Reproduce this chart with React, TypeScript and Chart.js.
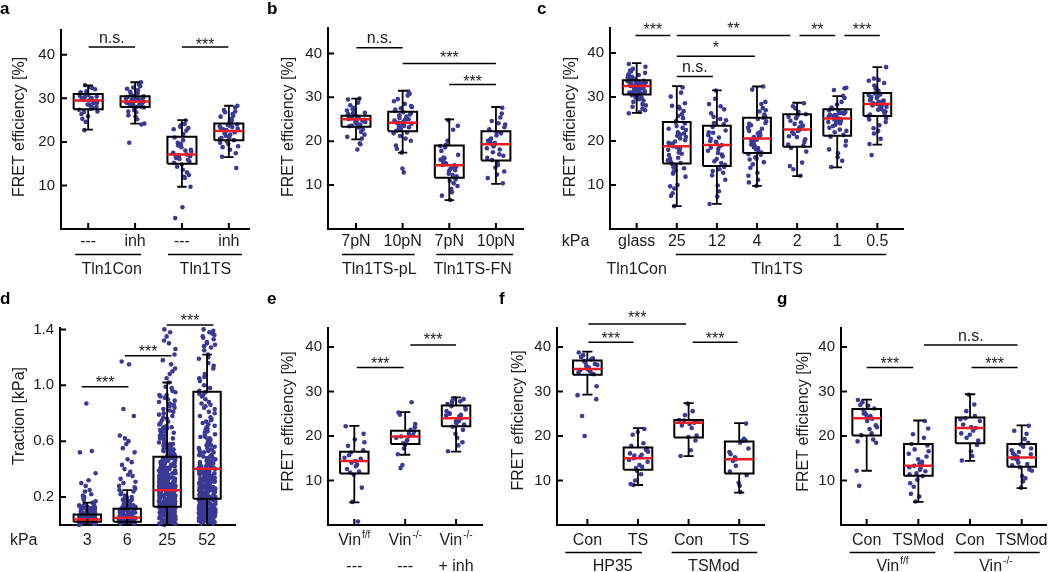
import React, { useEffect, useRef } from "react";
import { Chart, registerables } from "chart.js";

Chart.register(...registerables);

// ---------------- shared horizontal jitter pattern (fraction of jitter half-width) ----------------
const JITTER = [0.12, -0.85, 0.47, -0.33, 0.91, -0.06, -0.62, 0.28, 0.74, -0.97, 0.05, -0.41, 0.63, -0.19, 0.88, -0.72, 0.36, -0.52, 0.15, 0.99, -0.27, -0.88, 0.54, -0.11, 0.79, -0.45, 0.22, -0.66, 0.41, -0.02, 0.95, -0.79, 0.31, -0.36, 0.68, -0.93, 0.09];

// box statistics rows: [lower whisker, Q1, median, Q3, upper whisker]

// ---------------- panel a ----------------
const A_CATEGORIES = ["---", "inh", "---", "inh"];
const A_GROUPS = ["Tln1Con", "Tln1TS"];
const A_Y_TICKS = [10, 20, 30, 40];
const A_CON_CTRL = [29.5, 31.2, 27.8, 33.0, 30.4, 28.6, 25.3, 29.9, 32.1, 27.4, 30.8, 22.7, 29.2, 31.6, 28.1, 26.4, 30.1, 29.7, 32.6, 27.0, 24.6, 30.6, 28.9, 31.0, 29.3, 26.9, 28.4, 30.0, 32.4, 25.9, 29.0, 31.4, 27.6, 30.3];
const A_CON_INH = [29.3, 33.7, 28.5, 30.2, 26.1, 29.8, 31.5, 28.0, 24.2, 30.6, 29.0, 32.8, 27.3, 29.6, 30.9, 25.2, 28.8, 33.2, 29.4, 27.9, 30.3, 31.9, 28.3, 24.0, 29.1, 30.0, 26.8, 32.2, 28.6, 29.7, 30.5, 27.5, 19.8, 31.2, 28.9, 29.9, 25.8, 30.8, 28.1, 32.5, 29.2, 27.0, 30.1];
const A_TS_CTRL = [17.1, 23.8, 15.5, 19.8, 12.0, 16.6, 24.9, 14.8, 18.2, 21.0, 11.7, 16.9, 23.2, 17.5, 13.6, 20.4, 15.2, 22.6, 17.0, 9.7, 18.8, 16.3, 24.1, 12.4, 17.4, 5.0, 19.2, 15.9, 23.5, 16.7, 2.5, 18.0, 14.3, 21.8, 17.8, 16.1, 22.9, 13.0, 19.5];
const A_TS_INH = [22.5, 27.9, 20.7, 24.6, 18.2, 23.1, 26.0, 21.4, 28.3, 19.5, 22.9, 25.3, 17.4, 23.6, 21.0, 26.8, 22.2, 20.1, 24.0, 16.6, 23.4, 27.3, 21.7, 19.0, 22.7, 25.8, 20.4, 23.9, 14.0, 22.0, 24.4, 18.8, 26.4, 21.2, 23.0, 20.9, 25.0, 22.4, 27.0, 19.8, 23.7];
const A_BOX_STATS = [[22.8, 27.5, 29.5, 31.0, 33.0], [24.2, 28.0, 29.3, 30.5, 33.7], [9.7, 15.0, 17.1, 21.2, 25.0], [16.5, 20.4, 22.5, 24.2, 28.3]];

// ---------------- panel b ----------------
const B_CATEGORIES = ["7pN", "10pN", "7pN", "10pN"];
const B_GROUPS = ["Tln1TS-pL", "Tln1TS-FN"];
const B_Y_TICKS = [10, 20, 30, 40];
const B_PL_7 = [25.0, 29.5, 23.8, 26.3, 21.5, 24.6, 28.2, 25.4, 22.7, 27.0, 24.1, 25.7, 20.6, 26.8, 24.9, 23.4, 29.7, 25.2, 18.1, 24.4, 27.6, 25.9, 22.1, 26.0, 24.7, 23.6, 28.8, 25.5, 19.5, 24.2, 26.5, 25.1, 23.1, 27.3, 24.8, 21.0, 25.6, 24.0, 26.2, 19.3];
const B_PL_10 = [24.2, 31.3, 22.8, 26.4, 19.0, 25.1, 29.6, 23.5, 27.8, 21.2, 24.7, 30.4, 17.4, 26.1, 23.9, 28.5, 22.4, 25.6, 13.8, 24.0, 27.2, 20.6, 25.9, 23.2, 29.1, 24.5, 12.9, 26.9, 22.0, 25.3, 28.0, 23.7, 18.3, 24.9, 30.8, 21.8, 26.6, 23.0, 25.0, 27.5, 20.1, 24.3];
const B_FN_7 = [14.5, 24.8, 12.0, 18.6, 9.1, 15.3, 22.6, 13.2, 16.9, 7.6, 14.0, 19.2, 11.3, 15.8, 6.6, 13.7, 17.8, 10.4, 14.8, 23.5, 12.6, 16.3, 8.4, 14.2, 18.9, 11.0, 15.0, 13.4, 20.1, 9.8, 14.6, 12.3, 16.1];
const B_FN_10 = [19.3, 27.6, 16.2, 22.0, 12.4, 20.1, 25.4, 17.5, 23.2, 14.0, 19.8, 24.1, 10.4, 18.4, 21.3, 15.7, 26.3, 19.0, 13.1, 22.7, 17.0, 20.6, 15.2, 23.8, 18.8, 11.6, 21.8, 19.6, 16.7, 24.6, 14.6, 20.3, 18.1];
const B_BOX_STATS = [[20.4, 23.3, 25.0, 25.8, 29.7], [17.4, 22.3, 24.2, 26.7, 31.5], [6.6, 11.7, 14.5, 19.0, 25.0], [10.3, 15.6, 19.3, 22.3, 27.8]];

// ---------------- panel c ----------------
const C_CATEGORIES = ["glass", "25", "12", "4", "2", "1", "0.5"];
const C_GROUPS = ["Tln1Con", "Tln1TS"];
const C_Y_TICKS = [10, 20, 30, 40];
const C_GLASS = [32.5, 37.5, 30.8, 34.2, 27.0, 33.1, 35.8, 31.6, 29.2, 33.6, 32.0, 36.4, 28.4, 33.9, 31.2, 32.8, 26.6, 34.6, 30.3, 33.3, 31.9, 35.2, 29.8, 32.2, 33.7, 27.8, 31.5, 34.0, 32.7, 30.0, 36.9, 31.0, 33.4, 28.9, 32.4, 34.9, 31.4, 33.0, 26.3, 32.9, 30.6, 35.5, 31.8, 33.2, 29.5, 32.1, 34.4, 30.9, 32.6, 27.4, 33.8, 31.3, 36.0, 32.3, 30.4, 33.5, 28.1, 31.7, 34.7, 32.0, 29.9, 33.1, 31.1, 35.0, 32.5, 30.2];
const C_KPA_25 = [18.8, 32.2, 14.5, 24.0, 9.7, 20.6, 28.0, 16.2, 22.5, 5.2, 19.6, 26.1, 13.4, 21.7, 8.1, 17.4, 30.1, 15.0, 23.4, 11.9, 19.2, 27.4, 14.0, 25.2, 18.0, 10.0, 22.0, 16.8, 31.0, 13.0, 20.2, 24.6, 7.5, 17.9, 26.8, 15.6, 21.2, 12.6, 23.0, 19.9, 28.6, 16.0, 18.4, 14.8, 25.7, 20.9, 9.2, 22.8, 17.1, 24.3, 13.8, 19.4, 27.8, 15.3, 21.5, 18.6];
const C_KPA_12 = [19.1, 31.5, 14.1, 23.2, 8.6, 20.5, 27.9, 15.9, 22.4, 5.7, 18.8, 25.5, 12.8, 21.3, 9.9, 17.3, 28.4, 15.0, 24.1, 11.2, 19.5, 26.3, 13.6, 23.8, 17.8, 7.4, 21.9, 16.5, 29.6, 14.6, 20.0, 25.0, 12.2, 18.2, 24.7, 15.4, 22.0, 16.9, 19.8, 27.2, 13.2, 20.8, 18.5];
const C_KPA_4 = [20.6, 32.4, 17.0, 25.0, 11.2, 22.3, 28.4, 18.6, 24.1, 9.8, 20.0, 26.7, 15.2, 23.0, 12.8, 19.4, 27.5, 16.3, 25.6, 13.9, 21.4, 31.7, 17.8, 24.5, 19.0, 10.6, 22.8, 18.1, 26.0, 14.7, 21.0, 23.6, 16.9, 20.3, 27.0, 15.8, 22.0, 19.7, 25.3, 12.1, 21.7, 18.4, 23.9, 17.4, 20.9, 28.9, 16.0, 19.2];
const C_KPA_2 = [22.6, 28.6, 19.2, 25.8, 13.6, 23.5, 27.4, 20.4, 24.6, 12.1, 22.0, 26.6, 17.6, 23.9, 21.1, 15.1, 25.2, 19.8, 27.9, 22.9, 18.4, 24.2, 20.9, 26.1, 14.3, 23.2, 21.6, 19.0, 25.5, 22.3];
const C_KPA_1 = [25.1, 32.1, 22.0, 27.0, 15.5, 25.8, 29.8, 23.4, 26.4, 14.1, 24.6, 28.3, 20.0, 26.0, 24.0, 31.6, 21.4, 25.5, 17.2, 26.9, 23.0, 28.9, 24.9, 19.0, 25.3, 27.6, 22.6, 26.2, 24.3, 16.3, 25.7, 30.3, 23.7, 26.6, 21.0, 25.0, 27.3, 24.7, 22.3, 25.9, 18.1, 26.4, 24.4, 32.0];
const C_KPA_05 = [28.4, 36.8, 26.0, 30.6, 21.7, 29.2, 33.7, 27.1, 31.4, 19.3, 28.0, 32.6, 24.3, 29.8, 16.8, 27.5, 33.2, 25.6, 30.2, 22.9, 28.8, 31.9, 26.7, 29.5, 20.5, 28.1, 33.9, 27.8, 30.8, 24.9, 29.0, 32.0, 26.3, 28.6, 23.6, 30.0, 27.3, 31.1, 25.2, 29.3, 28.2, 34.2, 26.9, 30.4, 22.3, 28.9];
const C_BOX_STATS = [[26.4, 30.6, 32.5, 33.8, 37.7], [5.2, 14.9, 18.8, 24.3, 32.5], [5.7, 14.3, 19.1, 23.5, 31.5], [9.8, 17.3, 20.6, 25.3, 32.4], [12.0, 18.7, 22.6, 26.1, 28.7], [14.0, 21.2, 25.1, 27.2, 30.2], [19.2, 25.7, 28.4, 30.9, 36.8]];

// ---------------- panel d (traction, kPa) ----------------
const D_CATEGORIES = ["3", "6", "25", "52"];
const D_Y_TICKS = [0.2, 0.6, 1.0, 1.4];
const D_KPA_3 = [0.02, 0.05, 0.11, 0.01, 0.07, 0.03, 0.13, 0.04, 0.09, 0.0, 0.06, 0.14, 0.02, 0.08, 0.03, 0.12, 0.05, 0.01, 0.1, 0.04, 0.15, 0.06, 0.02, 0.09, 0.03, 0.07, 0.11, 0.01, 0.05, 0.13, 0.04, 0.08, 0.02, 0.06, 0.16, 0.03, 0.1, 0.05, 0.01, 0.07, 0.12, 0.04, 0.02, 0.09, 0.06, 0.03, 0.14, 0.05, 0.08, 0.01, 0.04, 0.11, 0.02, 0.07, 0.03, 0.06, 0.17, 0.05, 0.02, 0.09, 0.04, 0.13, 0.01, 0.06, 0.03, 0.08, 0.1, 0.02, 0.05, 0.04, 0.2, 0.07, 0.03, 0.12, 0.01, 0.06, 0.22, 0.04, 0.09, 0.02, 0.05, 0.25, 0.03, 0.14, 0.07, 0.18, 0.01, 0.28, 0.04, 0.3, 0.06, 0.21, 0.32, 0.37, 0.24, 0.52, 0.53, 0.87, 0.15, 0.19, 0.03, 0.08, 0.12, 0.05, 0.02, 0.1, 0.01, 0.04, 0.07, 0.02, 0.1, 0.05, 0.03, 0.08, 0.06, 0.12, 0.02, 0.04, 0.09, 0.01, 0.06, 0.11, 0.03, 0.05, 0.07, 0.13, 0.02, 0.08, 0.04, 0.1, 0.01, 0.06, 0.03, 0.09, 0.05, 0.14];
const D_KPA_6 = [0.03, 0.08, 0.15, 0.01, 0.1, 0.05, 0.18, 0.06, 0.12, 0.02, 0.09, 0.2, 0.04, 0.11, 0.03, 0.16, 0.07, 0.01, 0.13, 0.05, 0.22, 0.08, 0.02, 0.14, 0.04, 0.1, 0.17, 0.03, 0.06, 0.19, 0.05, 0.12, 0.01, 0.09, 0.24, 0.04, 0.07, 0.15, 0.02, 0.11, 0.27, 0.06, 0.03, 0.13, 0.08, 0.05, 0.21, 0.1, 0.01, 0.16, 0.04, 0.3, 0.07, 0.12, 0.02, 0.18, 0.09, 0.33, 0.05, 0.14, 0.03, 0.25, 0.06, 0.36, 0.11, 0.08, 0.4, 0.02, 0.2, 0.43, 0.15, 0.04, 0.28, 0.47, 0.1, 0.35, 0.06, 0.52, 0.23, 0.38, 0.55, 0.6, 0.31, 0.62, 0.64, 0.45, 0.58, 0.78, 0.83, 1.15, 1.17, 0.13, 0.07, 0.26, 0.01, 0.17, 0.04, 0.09, 0.02, 0.11, 0.02, 0.06, 0.09, 0.03, 0.12, 0.05, 0.01, 0.08, 0.14, 0.04, 0.1, 0.07, 0.02, 0.16, 0.05, 0.11, 0.03, 0.09, 0.06, 0.13, 0.01, 0.07, 0.18, 0.04, 0.1, 0.02, 0.15, 0.06, 0.08, 0.12];
const D_KPA_25 = [0.12, 0.35, 0.05, 0.48, 0.22, 0.67, 0.02, 0.29, 0.15, 0.41, 0.08, 0.56, 0.19, 0.33, 0.01, 0.74, 0.26, 0.1, 0.45, 0.17, 0.38, 0.04, 0.52, 0.23, 0.88, 0.13, 0.31, 0.07, 0.6, 0.2, 0.43, 0.03, 0.27, 0.16, 0.95, 0.36, 0.09, 0.5, 0.24, 0.14, 0.7, 0.06, 0.39, 0.18, 0.57, 0.28, 0.11, 0.82, 0.0, 0.34, 0.21, 0.47, 0.13, 0.63, 0.05, 0.3, 0.25, 1.05, 0.4, 0.08, 0.54, 0.17, 0.32, 0.02, 0.78, 0.22, 0.44, 0.12, 0.58, 0.27, 0.06, 0.37, 0.91, 0.19, 0.49, 0.1, 0.66, 0.03, 0.29, 0.15, 0.42, 0.24, 1.12, 0.07, 0.53, 0.35, 0.18, 0.72, 0.01, 0.46, 0.26, 0.14, 0.61, 0.09, 0.38, 0.21, 0.85, 0.04, 0.31, 0.55, 0.16, 0.43, 0.11, 1.22, 0.33, 0.23, 0.68, 0.06, 0.48, 0.28, 0.13, 0.98, 0.39, 0.02, 0.57, 0.2, 0.36, 0.08, 0.76, 0.25, 0.45, 0.15, 1.32, 0.3, 0.05, 0.51, 0.18, 0.64, 0.1, 0.41, 0.27, 0.93, 0.03, 0.34, 0.22, 0.59, 0.12, 0.8, 0.37, 0.07, 0.47, 0.24, 1.38, 0.16, 0.53, 0.01, 0.32, 0.19, 0.7, 0.09, 0.44, 0.29, 1.02, 0.14, 0.56, 0.04, 0.39, 0.21, 0.87, 0.11, 0.62, 0.26, 0.06, 0.49, 0.35, 1.15, 0.17, 0.42, 0.02, 0.75, 0.23, 0.54, 0.13, 0.3, 0.08, 0.96, 0.4, 0.2, 0.65, 0.05, 0.46, 0.28, 1.26, 0.15, 0.36, 0.1, 0.58, 0.25, 0.83, 0.03, 0.43, 0.18, 0.69, 0.12, 0.33, 1.08, 0.07, 0.52, 0.27, 0.9, 0.22, 0.38, 0.01, 0.61, 0.16, 1.35, 0.45, 0.09, 0.31, 0.79, 0.24, 0.55, 0.04, 0.99, 0.19, 0.41, 0.14, 1.18, 0.34, 0.06, 0.67, 0.29, 0.48, 0.11, 0.86, 0.21, 1.3, 0.37, 0.02, 0.57, 0.17, 0.73, 0.26, 0.44, 0.08, 0.93, 0.32, 0.13, 0.62, 0.23, 1.4, 0.5, 0.05, 0.39, 0.2, 0.81, 0.28, 0.15, 0.53, 1.1, 0.35, 0.1, 0.66, 0.03, 0.47, 0.25, 0.04, 0.19, 0.33, 0.08, 0.27, 0.51, 0.14, 0.02, 0.38, 0.22, 0.11, 0.46, 0.06, 0.29, 0.17, 0.58, 0.01, 0.24, 0.36, 0.09, 0.43, 0.13, 0.31, 0.05, 0.21, 0.55, 0.16, 0.39, 0.03, 0.26, 0.12, 0.48, 0.07, 0.34, 0.2, 0.62, 0.1, 0.28, 0.44, 0.15, 0.02, 0.37, 0.23, 0.53, 0.08, 0.3, 0.18, 0.41, 0.04, 0.25, 0.14, 0.59, 0.11, 0.35, 0.06, 0.47, 0.22, 0.01, 0.32, 0.19, 0.71, 0.09, 0.4, 0.27, 0.13, 0.5, 0.03, 0.24, 0.16, 0.84, 0.07, 0.34, 0.45, 0.12, 0.21, 0.64, 0.05, 0.29, 0.38, 0.17, 0.77, 0.1, 0.26, 0.52, 0.02, 0.33, 0.92, 0.15, 0.42, 0.08, 0.23, 0.56, 0.18, 0.68, 0.04, 0.31, 0.89, 0.12, 0.37, 0.27];
const D_KPA_52 = [0.05, 0.32, 0.14, 0.61, 0.02, 0.24, 0.45, 0.09, 0.83, 0.18, 0.37, 0.01, 0.27, 0.12, 0.55, 0.21, 0.07, 0.4, 1.36, 0.15, 0.3, 0.04, 0.72, 0.19, 0.35, 0.1, 0.5, 0.23, 0.03, 0.93, 0.28, 0.13, 0.42, 0.06, 0.65, 0.17, 0.33, 1.28, 0.08, 0.25, 0.47, 0.11, 0.78, 0.2, 0.38, 0.02, 0.57, 0.14, 0.29, 1.12, 0.05, 0.44, 0.22, 0.09, 0.68, 0.31, 0.16, 0.98, 0.01, 0.36, 0.26, 0.12, 0.53, 0.19, 0.41, 1.33, 0.07, 0.3, 0.87, 0.15, 0.48, 0.24, 0.04, 0.62, 0.34, 0.1, 1.05, 0.21, 0.39, 0.13, 0.75, 0.27, 0.06, 0.46, 0.18, 1.38, 0.32, 0.09, 0.58, 0.23, 0.02, 0.9, 0.37, 0.14, 0.43, 0.28, 1.2, 0.11, 0.66, 0.2, 0.35, 0.05, 0.52, 0.17, 0.81, 0.26, 0.08, 1.3, 0.4, 0.12, 0.6, 0.22, 0.03, 0.96, 0.31, 0.16, 0.45, 0.25, 1.25, 0.07, 0.7, 0.19, 0.38, 0.1, 0.55, 0.29, 1.4, 0.13, 0.85, 0.33, 0.04, 0.49, 0.21, 1.16, 0.15, 0.64, 0.27, 0.09, 0.42, 0.18, 1.34, 0.36, 0.01, 0.77, 0.24, 0.11, 0.51, 0.3, 1.0, 0.06, 0.39, 0.16, 0.59, 0.22, 1.27, 0.14, 0.34, 0.08, 0.92, 0.28, 0.44, 0.03, 0.67, 0.2, 1.37, 0.12, 0.47, 0.26, 0.05, 0.73, 0.35, 0.17, 1.08, 0.1, 0.54, 0.23, 0.41, 0.02, 0.88, 0.19, 0.31, 1.31, 0.07, 0.63, 0.25, 0.13, 0.48, 0.37, 0.04, 1.22, 0.21, 0.57, 0.15, 0.8, 0.29, 0.09, 0.43, 1.39, 0.18, 0.69, 0.32, 0.06, 0.95, 0.24, 0.4, 0.11, 1.35, 0.53, 0.2, 0.03, 0.36, 0.76, 0.14, 1.14, 0.27, 0.46, 0.08, 0.61, 0.22, 1.29, 0.33, 0.12, 0.84, 0.01, 0.5, 0.17, 0.38, 1.03, 0.26, 0.1, 0.71, 0.3, 0.03, 0.15, 0.27, 0.08, 0.36, 0.19, 0.01, 0.24, 0.12, 0.42, 0.06, 0.31, 0.17, 0.09, 0.28, 0.22, 0.04, 0.38, 0.14, 0.49, 0.1, 0.26, 0.02, 0.33, 0.18, 0.07, 0.44, 0.21, 0.13, 0.3, 0.05, 0.37, 0.16, 0.25, 0.11, 0.56, 0.2, 0.03, 0.32, 0.08, 0.41, 0.15, 0.27, 0.06, 0.63, 0.23, 0.12, 0.35, 0.01, 0.19, 0.47, 0.09, 0.29, 0.14, 0.74, 0.22, 0.05, 0.39, 0.17, 0.86, 0.26, 0.1, 0.33, 0.02, 0.52, 0.18, 0.94, 0.07, 0.24, 0.43, 0.13, 1.06, 0.31, 0.04, 0.2, 0.58, 0.11, 1.19, 0.28, 0.16];
const D_BOX_STATS = [[0, 0.024, 0.04, 0.076, 0.16], [0, 0.024, 0.052, 0.117, 0.25], [0, 0.131, 0.248, 0.489, 1.02], [0, 0.188, 0.403, 0.954, 1.22]];

// ---------------- panel e ----------------
const E_CATEGORIES = ["Vin|f/f", "Vin|-/-", "Vin|-/-"];
const E_TREATMENT = ["---", "---", "+ inh"];
const E_Y_TICKS = [10, 20, 30, 40];
const E_VIN_FF = [14.4, 22.2, 12.0, 16.3, 20.5, 11.3, 17.8, 13.6, 8.4, 15.1, 19.2, 11.8, 14.9, 5.2, 16.8, 12.6, 0.8, 15.7, 13.2, 18.6, 14.0];
const E_VIN_KO = [19.9, 27.6, 18.4, 21.0, 15.9, 20.6, 24.8, 18.9, 22.7, 13.5, 19.6, 21.4, 17.2, 20.2, 12.8, 19.1, 25.3, 20.0, 18.0, 22.0];
const E_VIN_KO_INH = [24.0, 28.5, 22.6, 26.7, 17.9, 25.1, 27.8, 23.2, 26.0, 16.6, 24.4, 28.0, 21.4, 25.6, 23.7, 19.6, 27.2, 24.8, 22.1, 26.4, 20.5, 25.0, 23.4, 28.3, 24.6, 22.9, 27.5, 18.6];
const E_BOX_STATS = [[5.1, 11.6, 14.4, 16.5, 22.3], [15.8, 18.2, 19.9, 21.2, 25.4], [16.5, 22.2, 24.0, 26.9, 28.7]];

// ---------------- panel f ----------------
const F_CATEGORIES = ["Con", "TS", "Con", "TS"];
const F_GROUPS = ["HP35", "TSMod"];
const F_Y_TICKS = [10, 20, 30, 40];
const F_HP35_CON = [35.1, 38.8, 34.0, 36.9, 31.2, 35.6, 37.8, 34.5, 36.2, 29.2, 35.0, 38.2, 33.9, 36.6, 28.3, 34.8, 37.2, 24.5, 35.4, 36.0, 20.0, 34.3, 37.5, 35.8];
const F_HP35_TS = [15.0, 21.6, 12.8, 17.2, 9.2, 15.8, 20.3, 13.5, 16.5, 10.0, 14.6, 18.4, 12.2, 16.9, 9.0, 15.3, 17.8, 13.1, 20.9, 14.2, 16.1, 11.4, 15.6];
const F_TSMOD_CON = [23.0, 27.3, 20.1, 23.5, 16.8, 22.4, 25.6, 19.8, 23.2, 15.5, 21.8, 24.7, 19.0, 23.6, 22.7];
const F_TSMOD_TS = [14.8, 22.8, 12.0, 18.5, 7.4, 15.9, 19.4, 13.3, 17.2, 9.5, 14.4, 18.9, 11.2, 16.4, 8.8, 15.2, 19.0];
const F_BOX_STATS = [[29.3, 33.8, 35.1, 37.0, 39.0], [9.0, 12.4, 15.0, 17.4, 21.8], [15.5, 19.7, 23.0, 23.6, 27.4], [7.3, 11.6, 14.8, 18.8, 22.9]];

// ---------------- panel g ----------------
const G_CATEGORIES = ["Con", "TSMod", "Con", "TSMod"];
const G_GROUPS = ["Vin|f/f", "Vin|-/-"];
const G_Y_TICKS = [10, 20, 30, 40];
const G_FF_CON = [24.0, 28.1, 20.6, 25.9, 18.5, 24.8, 27.0, 21.6, 26.2, 12.2, 23.4, 27.6, 19.2, 25.3, 22.4, 8.8, 24.5, 20.2, 26.8, 22.0, 25.1, 18.8, 23.9];
const G_FF_TSMOD = [13.3, 23.4, 11.6, 17.9, 7.0, 14.2, 20.4, 12.4, 16.6, 5.3, 13.0, 19.6, 10.2, 15.4, 8.6, 12.8, 18.2, 11.0, 14.8, 21.7, 9.4, 13.6, 17.0, 12.1, 16.0, 6.4, 13.9, 11.4];
const G_KO_CON = [21.8, 29.3, 19.0, 24.0, 15.5, 22.6, 27.1, 20.3, 23.4, 14.5, 21.2, 25.6, 18.0, 23.8, 16.6, 22.0, 20.6, 24.5, 19.6];
const G_KO_TSMOD = [15.2, 22.3, 13.4, 17.9, 9.8, 16.1, 20.5, 14.0, 17.2, 8.4, 15.6, 19.3, 12.5, 16.8, 11.0, 14.6, 18.5, 13.0, 15.9, 21.2, 10.5, 14.9, 17.6, 12.2, 16.4, 15.0, 13.7, 18.1];
const G_BOX_STATS = [[12.2, 20.1, 24.0, 26.1, 28.2], [5.2, 11.1, 13.3, 18.2, 23.5], [14.4, 18.4, 21.8, 24.2, 29.4], [8.3, 13.1, 15.2, 18.2, 22.4]];

// ---------------- styling / layout ----------------
const FONT = "'Liberation Sans', Arial, Helvetica, sans-serif";
const INK = "#1c1c1c";
const DOT = "rgb(58,58,150)";
const MEDIAN = "rgb(236,28,36)";

type Group = { c1: number; c2: number; o1: number; o2: number; label: string; line: boolean };
type SigBar = { x1: number; x2: number; y: number; text: string; dy?: number };
type PanelCfg = {
  letter: string;
  letterPos: [number, number];
  canvas: [number, number, number, number];
  area: [number, number, number, number];
  yMax: number;
  yTicks: number[];
  yDecimals: number;
  yTitle: string;
  titlePos: [number, number];
  xMin: number;
  xMax: number;
  cats: string[];
  catDy: number;
  subRow?: string[];
  subDy?: number;
  kpaX?: number;
  groups: Group[];
  groupLineDy: number;
  groupDy: number;
  sigs: SigBar[];
  series: number[][];
  boxes: number[][];
  boxHalf: number;
  capHalf: number;
  jitter: number;
  radius: number;
};

const PANELS: PanelCfg[] = [
  {
    letter: "a", letterPos: [0, 14], canvas: [0, 0, 262, 286], area: [61, 30, 249, 229],
    yMax: 45.7, yTicks: A_Y_TICKS, yDecimals: 0, yTitle: "FRET efficiency [%]", titlePos: [20, 127],
    xMin: 0.42, xMax: 4.43, cats: A_CATEGORIES, catDy: 17,
    groups: [
      { c1: 1, c2: 2, o1: -13, o2: 6, label: A_GROUPS[0], line: true },
      { c1: 3, c2: 4, o1: -14, o2: 13, label: A_GROUPS[1], line: true },
    ],
    groupLineDy: 25.5, groupDy: 44.5,
    sigs: [
      { x1: 1.01, x2: 2.0, y: 41.8, text: "n.s." },
      { x1: 3.0, x2: 3.99, y: 41.8, text: "***", dy: 6.5 },
    ],
    series: [A_CON_CTRL, A_CON_INH, A_TS_CTRL, A_TS_INH], boxes: A_BOX_STATS,
    boxHalf: 0.31, capHalf: 0.1, jitter: 0.2, radius: 2.3,
  },
  {
    letter: "b", letterPos: [267, 14], canvas: [262, 0, 268, 286], area: [328, 28, 523, 229],
    yMax: 45.8, yTicks: B_Y_TICKS, yDecimals: 0, yTitle: "FRET efficiency [%]", titlePos: [288.3, 127],
    xMin: 0.4, xMax: 4.58, cats: B_CATEGORIES, catDy: 17,
    groups: [
      { c1: 1, c2: 2, o1: -14, o2: 12, label: B_GROUPS[0], line: true },
      { c1: 3, c2: 4, o1: -13, o2: 17, label: B_GROUPS[1], line: true },
    ],
    groupLineDy: 25.5, groupDy: 44.5,
    sigs: [
      { x1: 1.01, x2: 2.0, y: 41.3, text: "n.s." },
      { x1: 2.0, x2: 4.0, y: 37.7, text: "***", dy: 9.5 },
      { x1: 3.0, x2: 4.0, y: 32.9, text: "***", dy: 6.5 },
    ],
    series: [B_PL_7, B_PL_10, B_FN_7, B_FN_10], boxes: B_BOX_STATS,
    boxHalf: 0.31, capHalf: 0.1, jitter: 0.2, radius: 2.3,
  },
  {
    letter: "c", letterPos: [537, 14], canvas: [530, 0, 520, 286], area: [610, 28, 903, 229],
    yMax: 45.7, yTicks: C_Y_TICKS, yDecimals: 0, yTitle: "FRET efficiency [%]", titlePos: [571, 127],
    xMin: 0.335, xMax: 7.64, cats: C_CATEGORIES, catDy: 17, kpaX: 575.5,
    groups: [
      { c1: 1, c2: 1, o1: 0, o2: 0, label: C_GROUPS[0], line: false },
      { c1: 2, c2: 7, o1: -1, o2: 9, label: C_GROUPS[1], line: true },
    ],
    groupLineDy: 25.5, groupDy: 44.5,
    sigs: [
      { x1: 0.97, x2: 1.84, y: 44.0, text: "***", dy: 10 },
      { x1: 2.0, x2: 4.83, y: 44.0, text: "**", dy: 10.5 },
      { x1: 5.06, x2: 5.95, y: 44.0, text: "**", dy: 10 },
      { x1: 6.18, x2: 7.06, y: 44.0, text: "***", dy: 10 },
      { x1: 2.0, x2: 3.95, y: 39.3, text: "*", dy: 12 },
      { x1: 2.0, x2: 2.9, y: 34.7, text: "n.s." },
    ],
    series: [C_GLASS, C_KPA_25, C_KPA_12, C_KPA_4, C_KPA_2, C_KPA_1, C_KPA_05], boxes: C_BOX_STATS,
    boxHalf: 0.346, capHalf: 0.12, jitter: 0.23, radius: 2.3,
  },
  {
    letter: "d", letterPos: [0, 304], canvas: [0, 286, 250, 286], area: [60, 328, 235, 525],
    yMax: 1.41, yTicks: D_Y_TICKS, yDecimals: 1, yTitle: "Traction [kPa]", titlePos: [20, 416],
    xMin: 0.316, xMax: 4.7, cats: D_CATEGORIES, catDy: 20, kpaX: 23.7,
    groups: [], groupLineDy: 27.5, groupDy: 46,
    sigs: [
      { x1: 0.86, x2: 2.03, y: 0.99, text: "***", dy: 8.4 },
      { x1: 1.94, x2: 3.11, y: 1.212, text: "***", dy: 7.7 },
      { x1: 2.99, x2: 4.16, y: 1.432, text: "***", dy: 8.3 },
    ],
    series: [D_KPA_3, D_KPA_6, D_KPA_25, D_KPA_52], boxes: D_BOX_STATS,
    boxHalf: 0.343, capHalf: 0.12, jitter: 0.21, radius: 2.3,
  },
  {
    letter: "e", letterPos: [267, 304], canvas: [250, 286, 245, 286], area: [328, 328, 482, 525],
    yMax: 44.3, yTicks: E_Y_TICKS, yDecimals: 0, yTitle: "FRET efficiency [%]", titlePos: [289, 421.5],
    xMin: 0.483, xMax: 3.51, cats: E_CATEGORIES, catDy: 20, subRow: E_TREATMENT, subDy: 46,
    groups: [], groupLineDy: 27.5, groupDy: 46,
    sigs: [
      { x1: 1.05, x2: 1.97, y: 35.4, text: "***", dy: 7.7 },
      { x1: 2.1, x2: 3.0, y: 40.5, text: "***", dy: 9.5 },
    ],
    series: [E_VIN_FF, E_VIN_KO, E_VIN_KO_INH], boxes: E_BOX_STATS,
    boxHalf: 0.28, capHalf: 0.1, jitter: 0.2, radius: 2.3,
  },
  {
    letter: "f", letterPos: [499, 304], canvas: [495, 286, 275, 286], area: [557, 328, 764, 525],
    yMax: 44.3, yTicks: F_Y_TICKS, yDecimals: 0, yTitle: "FRET efficiency [%]", titlePos: [518.3, 420.5],
    xMin: 0.4, xMax: 4.49, cats: F_CATEGORIES, catDy: 20,
    groups: [
      { c1: 1, c2: 2, o1: -22, o2: 4, label: F_GROUPS[0], line: true },
      { c1: 3, c2: 4, o1: -17, o2: 18, label: F_GROUPS[1], line: true },
    ],
    groupLineDy: 27.5, groupDy: 46,
    sigs: [
      { x1: 1.02, x2: 1.91, y: 41.1, text: "***", dy: 7.6 },
      { x1: 1.02, x2: 2.95, y: 45.2, text: "***", dy: 10 },
      { x1: 3.08, x2: 3.97, y: 41.1, text: "***", dy: 7.6 },
    ],
    series: [F_HP35_CON, F_HP35_TS, F_TSMOD_CON, F_TSMOD_TS], boxes: F_BOX_STATS,
    boxHalf: 0.283, capHalf: 0.1, jitter: 0.2, radius: 2.3,
  },
  {
    letter: "g", letterPos: [777, 304], canvas: [770, 286, 280, 286], area: [841, 328, 1046, 525],
    yMax: 44.3, yTicks: G_Y_TICKS, yDecimals: 0, yTitle: "FRET efficiency [%]", titlePos: [803.3, 421.7],
    xMin: 0.503, xMax: 4.47, cats: G_CATEGORIES, catDy: 20,
    groups: [
      { c1: 1, c2: 2, o1: -17, o2: 17, label: G_GROUPS[0], line: true },
      { c1: 3, c2: 4, o1: -16, o2: 18, label: G_GROUPS[1], line: true },
    ],
    groupLineDy: 27.5, groupDy: 46,
    sigs: [
      { x1: 1.0, x2: 1.9, y: 35.4, text: "***", dy: 8.2 },
      { x1: 3.03, x2: 3.92, y: 35.4, text: "***", dy: 8.2 },
      { x1: 2.11, x2: 3.92, y: 40.5, text: "n.s." },
    ],
    series: [G_FF_CON, G_FF_TSMOD, G_KO_CON, G_KO_TSMOD], boxes: G_BOX_STATS,
    boxHalf: 0.277, capHalf: 0.1, jitter: 0.2, radius: 2.3,
  },
];

// label strings "main|superscript"
function drawLabel(ctx: CanvasRenderingContext2D, label: string, cx: number, baseline: number, size: number) {
  const [main, sup] = label.split("|");
  ctx.textBaseline = "alphabetic";
  ctx.font = `${size}px ${FONT}`;
  if (!sup) {
    ctx.textAlign = "center";
    ctx.fillText(main, cx, baseline);
    return;
  }
  const w1 = ctx.measureText(main).width;
  const ss = Math.round(size * 0.62);
  ctx.font = `${ss}px ${FONT}`;
  const w2 = ctx.measureText(sup).width;
  const x0 = cx - (w1 + w2 + 1) / 2;
  ctx.textAlign = "left";
  ctx.font = `${size}px ${FONT}`;
  ctx.fillText(main, x0, baseline);
  ctx.font = `${ss}px ${FONT}`;
  ctx.fillText(sup, x0 + w1 + 1, baseline - size * 0.42);
}

function annotationPlugin(cfg: PanelCfg) {
  return {
    id: "annot_" + cfg.letter,
    afterDraw(chart: any) {
      const ctx: CanvasRenderingContext2D = chart.ctx;
      const xs = chart.scales.x;
      const ys = chart.scales.y;
      const ar = chart.chartArea;
      const ox = cfg.canvas[0];
      const oy = cfg.canvas[1];
      ctx.save();
      ctx.strokeStyle = "#000";
      ctx.fillStyle = INK;
      ctx.lineCap = "butt";
      // inward tick marks
      ctx.lineWidth = 2;
      ctx.beginPath();
      for (const v of cfg.yTicks) {
        const py = ys.getPixelForValue(v);
        ctx.moveTo(ar.left, py);
        ctx.lineTo(ar.left + 6, py);
      }
      cfg.cats.forEach((_, i) => {
        const px = xs.getPixelForValue(i + 1);
        ctx.moveTo(px, ar.bottom);
        ctx.lineTo(px, ar.bottom - 6);
      });
      ctx.stroke();
      // category labels
      cfg.cats.forEach((lbl, i) => drawLabel(ctx, lbl, xs.getPixelForValue(i + 1), ar.bottom + cfg.catDy, 16));
      if (cfg.subRow) {
        cfg.subRow.forEach((t, i) => drawLabel(ctx, t, xs.getPixelForValue(i + 1), ar.bottom + (cfg.subDy || 46), 16));
      }
      if (cfg.kpaX != null) drawLabel(ctx, "kPa", cfg.kpaX - ox, ar.bottom + cfg.catDy, 16);
      // group lines and labels
      ctx.lineWidth = 1.6;
      for (const g of cfg.groups) {
        const p1 = xs.getPixelForValue(g.c1);
        const p2 = xs.getPixelForValue(g.c2);
        if (g.line) {
          const ly = ar.bottom + cfg.groupLineDy;
          ctx.beginPath();
          ctx.moveTo(p1 + g.o1, ly);
          ctx.lineTo(p2 + g.o2, ly);
          ctx.stroke();
        }
        drawLabel(ctx, g.label, (p1 + p2) / 2, ar.bottom + cfg.groupDy, 16);
      }
      // significance bars
      ctx.lineWidth = 1.5;
      for (const s of cfg.sigs) {
        const p1 = xs.getPixelForValue(s.x1);
        const p2 = xs.getPixelForValue(s.x2);
        const py = ys.getPixelForValue(s.y);
        ctx.beginPath();
        ctx.moveTo(p1, py);
        ctx.lineTo(p2, py);
        ctx.stroke();
        if (s.text === "n.s.") drawLabel(ctx, s.text, (p1 + p2) / 2, py - 4.3, 16);
        else drawLabel(ctx, s.text, (p1 + p2) / 2, py - (s.dy ?? 8) + 9.3, 16);
      }
      // y-axis title
      ctx.save();
      ctx.translate(cfg.titlePos[0] - ox, cfg.titlePos[1] - oy);
      ctx.rotate(-Math.PI / 2);
      ctx.font = `16px ${FONT}`;
      ctx.textAlign = "center";
      ctx.textBaseline = "middle";
      ctx.fillText(cfg.yTitle, 0, 0);
      ctx.restore();
      // panel letter
      ctx.font = `bold 17px ${FONT}`;
      ctx.textAlign = "left";
      ctx.textBaseline = "alphabetic";
      ctx.fillStyle = "#000";
      ctx.fillText(cfg.letter, cfg.letterPos[0] - ox, cfg.letterPos[1] - oy);
      ctx.restore();
    },
  };
}

function buildConfig(cfg: PanelCfg): any {
  const [cx, cy, cw, ch] = cfg.canvas;
  const [al, at, ar, ab] = cfg.area;
  const points: { x: number; y: number }[] = [];
  cfg.series.forEach((vals, g) => {
    vals.forEach((v, i) => {
      points.push({ x: g + 1 + JITTER[(i + g * 11) % JITTER.length] * cfg.jitter, y: v });
    });
  });
  const boxPts: { x: number; y: number | null }[] = [];
  const whiskPts: { x: number; y: number | null }[] = [];
  const medPts: { x: number; y: number | null }[] = [];
  cfg.boxes.forEach(([lo, q1, med, q3, hi], g) => {
    const c = g + 1;
    const w = cfg.boxHalf;
    const k = cfg.capHalf;
    boxPts.push({ x: c - w, y: q1 }, { x: c + w, y: q1 }, { x: c + w, y: q3 }, { x: c - w, y: q3 }, { x: c - w, y: q1 }, { x: c, y: null });
    whiskPts.push(
      { x: c, y: q3 }, { x: c, y: hi }, { x: c, y: null },
      { x: c - k, y: hi }, { x: c + k, y: hi }, { x: c, y: null },
      { x: c, y: q1 }, { x: c, y: lo }, { x: c, y: null },
      { x: c - k, y: lo }, { x: c + k, y: lo }, { x: c, y: null },
    );
    medPts.push({ x: c - w, y: med }, { x: c + w, y: med }, { x: c, y: null });
  });
  const lineDs = (data: any[], color: string, width: number, order: number) => ({
    data, showLine: true, borderColor: color, borderWidth: width, pointRadius: 0,
    fill: false, tension: 0, spanGaps: false, order, clip: false,
    borderCapStyle: "butt", borderJoinStyle: "miter",
  });
  return {
    type: "scatter",
    data: {
      datasets: [
        { data: points, backgroundColor: DOT, borderWidth: 0, pointRadius: cfg.radius, pointHoverRadius: cfg.radius, order: 3, clip: false },
        lineDs(whiskPts, "#000", 1.8, 2),
        lineDs(boxPts, "#000", 2, 1),
        lineDs(medPts, MEDIAN, 2.5, 0),
      ],
    },
    options: {
      responsive: false,
      maintainAspectRatio: false,
      animation: false,
      devicePixelRatio: 1,
      events: [],
      layout: { autoPadding: false, padding: { left: 0, top: at - cy, right: cx + cw - ar, bottom: 0 } },
      plugins: { legend: { display: false }, tooltip: { enabled: false }, title: { display: false } },
      scales: {
        x: {
          type: "linear", min: cfg.xMin, max: cfg.xMax,
          ticks: { display: false },
          grid: { display: false, drawTicks: false },
          border: { display: true, color: "#000", width: 2 },
          afterFit: (s: any) => { s.height = cy + ch - ab; },
        },
        y: {
          type: "linear", min: 0, max: cfg.yMax,
          afterBuildTicks: (s: any) => { s.ticks = cfg.yTicks.map((v) => ({ value: v })); },
          ticks: {
            color: INK, padding: 6, font: { size: 15, family: FONT },
            callback: (v: any) => Number(v).toFixed(cfg.yDecimals),
          },
          grid: { display: false, drawTicks: false },
          border: { display: true, color: "#000", width: 2 },
          afterFit: (s: any) => { s.width = al - cx; },
        },
      },
    },
    plugins: [annotationPlugin(cfg)],
  };
}

function Panel({ cfg }: { cfg: PanelCfg }) {
  const ref = useRef<HTMLCanvasElement>(null);
  useEffect(() => {
    if (!ref.current) return;
    const chart = new Chart(ref.current, buildConfig(cfg));
    return () => chart.destroy();
  }, [cfg]);
  const [x, y, w, h] = cfg.canvas;
  return (
    <canvas
      ref={ref}
      width={w}
      height={h}
      style={{ position: "absolute", left: x, top: y, width: w, height: h, display: "block" }}
    />
  );
}

export default function App() {
  return (
    <div style={{ position: "absolute", left: 0, top: 0, width: 1050, height: 572, background: "#fff", overflow: "hidden" }}>
      {PANELS.map((p) => (
        <Panel key={p.letter} cfg={p} />
      ))}
    </div>
  );
}
